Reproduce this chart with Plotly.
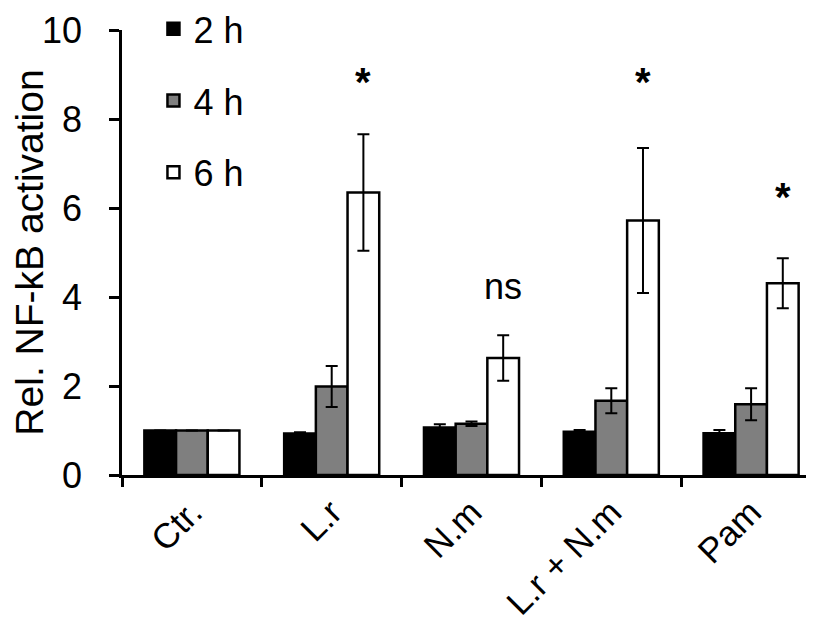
import plotly.graph_objects as go

# data
groups = ["Ctr.", "L.r", "N.m", "L.r + N.m", "Pam"]
h2 = [1.00, 0.93, 1.07, 0.97, 0.94]
h2_err = [0, 0.03, 0.07, 0.04, 0.07]
h4 = [1.00, 1.99, 1.15, 1.67, 1.59]
h4_err = [0, 0.46, 0.05, 0.28, 0.36]
h6 = [1.00, 6.35, 2.63, 5.72, 4.31]
h6_err = [0, 1.31, 0.51, 1.63, 0.56]

# significance marks over the 6 h bars
sig_text = ["", "*", "ns", "*", "*"]
sig_y = [None, 8.83, 4.23, 8.83, 6.25]

FONT = "Arial, Liberation Sans, sans-serif"

fig = go.Figure()

series = [
    ("2 h", h2, h2_err, "#000000"),
    ("4 h", h4, h4_err, "#7f7f7f"),
    ("6 h", h6, h6_err, "#ffffff"),
]
for name, vals, errs, col in series:
    fig.add_trace(
        go.Bar(
            x=groups,
            y=vals,
            name=name,
            legendgroup=name,
            marker=dict(color=col, line=dict(color="black", width=2.5)),
            error_y=dict(type="data", array=errs, color="black",
                         thickness=2, width=6, visible=True),
        )
    )

# bar width in px: 140 px per category, bargap 0.32, 3 bars
bar_px = 699 / 5 * (1 - 0.32) / 3
for g, t, yv in zip(groups, sig_text, sig_y):
    if not t:
        continue
    fig.add_annotation(
        x=g, y=yv, text="<b>*</b>" if t == "*" else t,
        showarrow=False, xshift=bar_px, yanchor="middle",
        font=dict(size=40 if t == "*" else 36, color="black", family=FONT),
    )

fig.update_layout(
    width=814, height=634,
    margin=dict(l=114, r=1, t=22, b=167, autoexpand=False),
    paper_bgcolor="white", plot_bgcolor="white",
    barmode="group", bargap=0.32, bargroupgap=0,
    font=dict(family=FONT, size=36, color="black"),
    showlegend=True,
    legend=dict(
        x=0.045, y=1.07, xanchor="left", yanchor="top",
        bgcolor="rgba(0,0,0,0)", tracegroupgap=22,
        font=dict(size=36), itemwidth=30,
    ),
)

fig.update_yaxes(
    range=[0, 10], dtick=2, showgrid=False, zeroline=False,
    showline=True, linecolor="black", linewidth=2.5,
    ticks="outside", ticklen=10, tickwidth=2.5, tickcolor="black",
    ticklabelstandoff=20, ticklabeloverflow="allow",
    tickfont=dict(size=36),
    title=dict(text="Rel. NF-kB activation", font=dict(size=39), standoff=8),
)
fig.update_xaxes(
    showgrid=False, showline=True, linecolor="black", linewidth=2.5,
    ticks="outside", tickson="boundaries", ticklen=9, tickwidth=2.5,
    tickcolor="black", tickangle=-45, tickfont=dict(size=35),
)

fig.write_html("out.html")
